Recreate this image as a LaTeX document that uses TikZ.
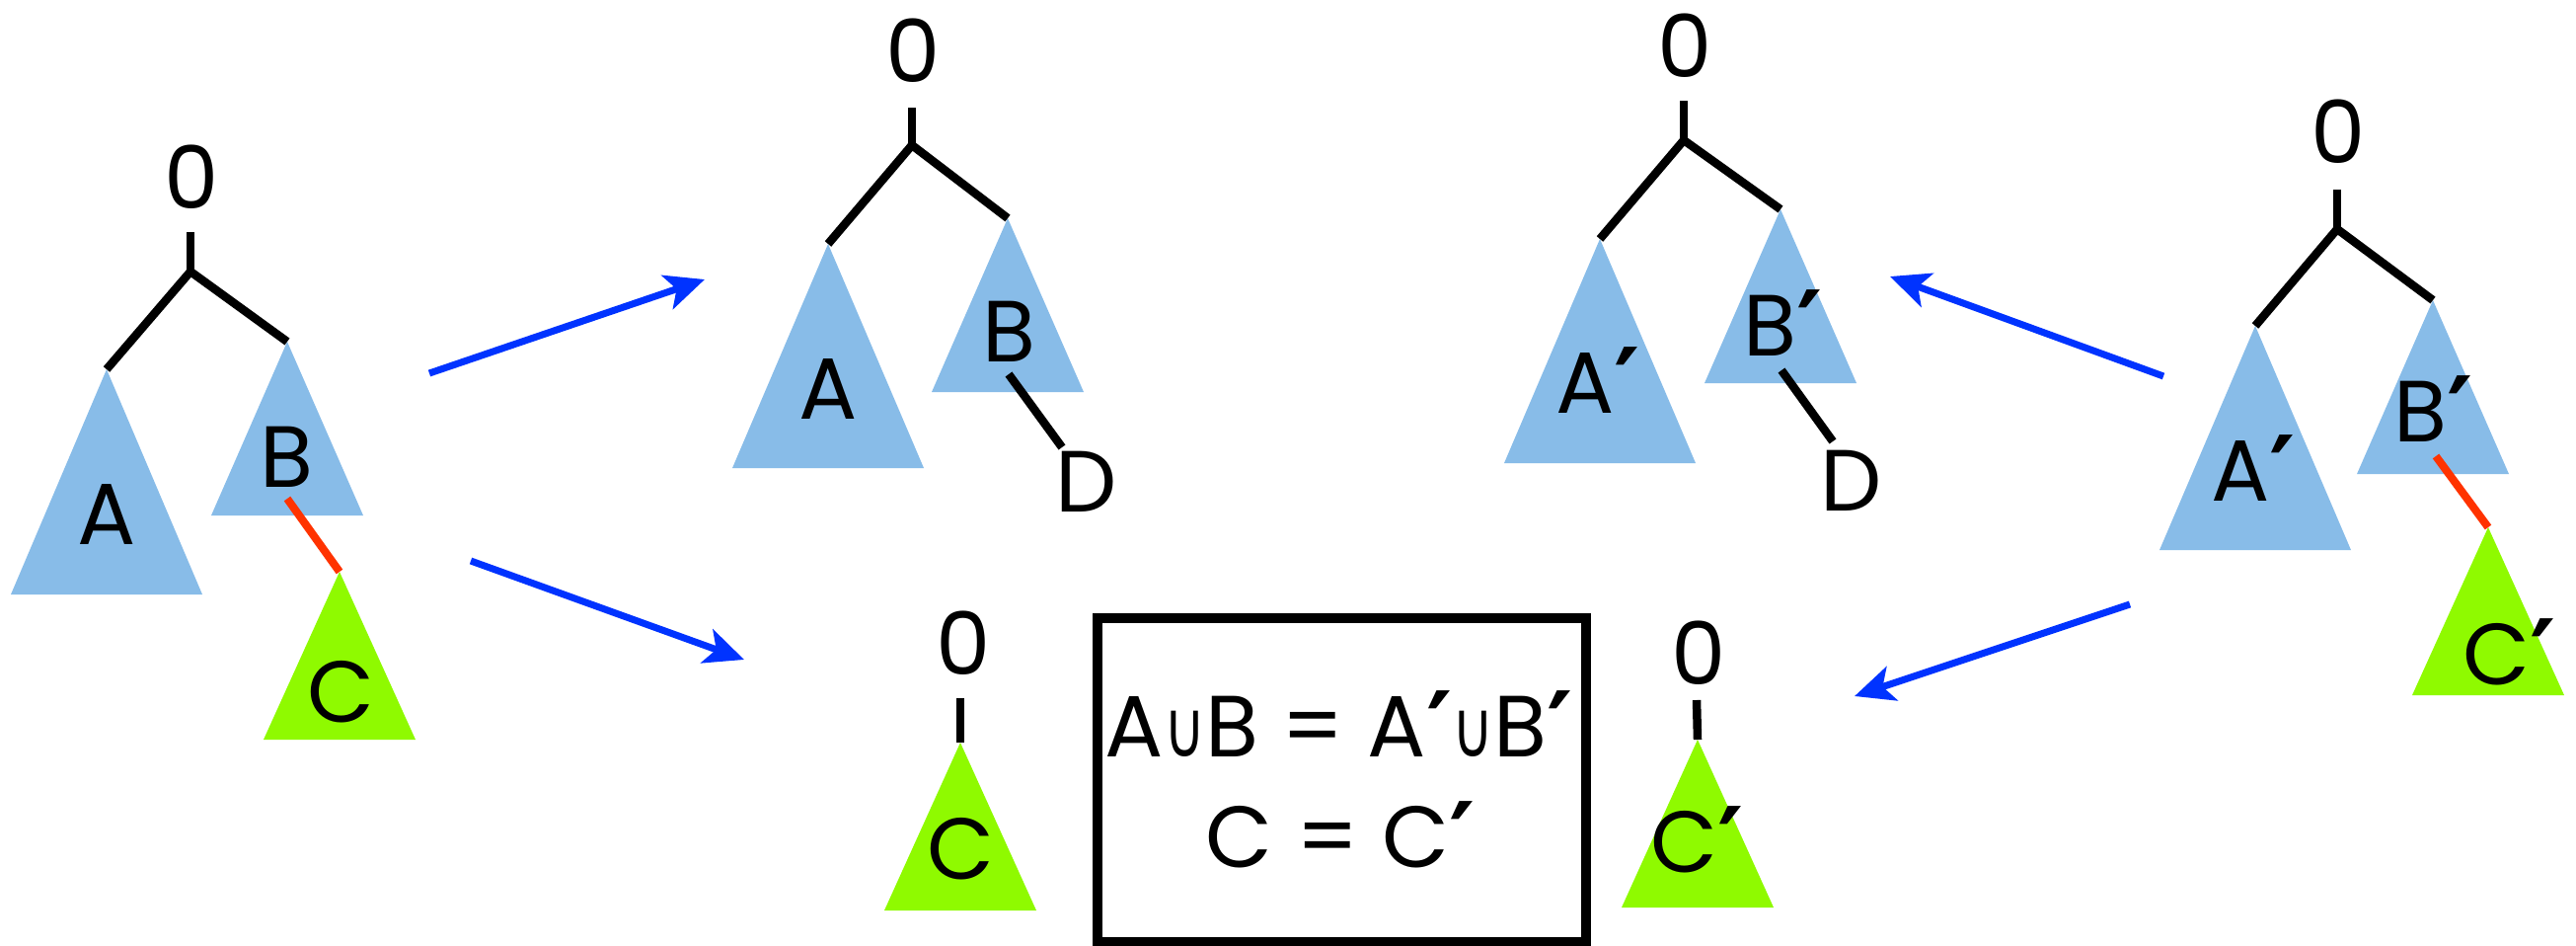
\documentclass[tikz,border=0pt]{standalone}
\usepackage{fontspec}
\usepackage{graphicx}
\setmainfont{Poppins}
\newfontfamily\symfont{DejaVu Sans}
\usetikzlibrary{arrows.meta}

\definecolor{treeblue}{RGB}{136,188,232}
\definecolor{treegreen}{RGB}{143,250,0}
\definecolor{edgered}{RGB}{255,51,0}
\definecolor{arrowblue}{RGB}{0,51,255}

% prime and union glyphs
\newcommand\pr{{\fontsize{100}{100}\selectfont\symfont\bfseries\raisebox{-6pt}{′}}}
\newcommand\un{{\fontsize{80}{80}\selectfont\symfont\scalebox{0.72}[1]{∪}}}

% subtree triangle: name, apex x, apex y, half width, height, colour
\newcommand\subtree[6]{%
  \coordinate (#1) at (#2,#3);
  \fill[#6] (#1) -- ++(#4,#5) -- ++(-2*#4,0) -- cycle;}

\tikzset{
  lbl/.style={font=\fontsize{88}{88}\selectfont, inner sep=0pt, anchor=base},
  treeline/.style={line width=8.5pt, black},
  redline/.style={line width=8pt, edgered},
  move/.style={line width=7pt, arrowblue, -{Stealth[length=40pt,width=36pt,inset=10pt]}},
  eqbox/.style={draw, line width=10pt, minimum width=495pt, minimum height=328pt, inner sep=0pt},
}

\begin{document}
\begin{tikzpicture}[x=1pt,y=-1pt]
\useasboundingbox (0,0) rectangle (2610,958);

% ---------- tree with A, B and C ----------
\subtree{A1}{108}{374}{97}{228}{treeblue}
\subtree{B1}{291}{346}{77}{176}{treeblue}
\subtree{C1}{344}{579}{77}{170}{treegreen}
\node[lbl] (z1) at (194,211) {0};
\coordinate (s1) at (193,235);
\coordinate (j1) at (193,275);
\draw[treeline] (s1) -- (j1);
\draw[treeline] (A1) -- (j1) -- (B1);
\coordinate (f1) at (291,505);
\draw[redline] (f1) -- (C1);
\node[lbl] (la1) at (108,551) {A};
\node[lbl] (lb1) at (290,493) {B};
\node[lbl] (lc1) at (345,731) {C};

% ---------- tree with A, B and D ----------
\subtree{A2}{839}{247}{97}{227}{treeblue}
\subtree{B2}{1021}{221}{77}{176}{treeblue}
\node[lbl] (z2) at (925,83) {0};
\coordinate (s2) at (924,109);
\coordinate (j2) at (924,147);
\draw[treeline] (s2) -- (j2);
\draw[treeline] (A2) -- (j2) -- (B2);
\node[lbl] (la2) at (839,424) {A};
\node[lbl] (lb2) at (1022,366) {B};
\node[lbl] (d2) at (1101,518) {D};
\coordinate (f2) at (1022,379);
\coordinate (g2) at (1076,453);
\draw[treeline] (f2) -- (g2);

% ---------- tree with A', B' and D ----------
\subtree{A3}{1621}{242}{97}{227}{treeblue}
\subtree{B3}{1804}{212}{77}{176}{treeblue}
\node[lbl] (z3) at (1707,78) {0};
\coordinate (s3) at (1706,102);
\coordinate (j3) at (1706,142);
\draw[treeline] (s3) -- (j3);
\draw[treeline] (A3) -- (j3) -- (B3);
\node[lbl] (la3) at (1619,418) {A\pr};
\node[lbl] (lb3) at (1807,360) {B\pr};
\node[lbl] (d3) at (1876,517) {D};
\coordinate (f3) at (1805,375);
\coordinate (g3) at (1857,447);
\draw[treeline] (f3) -- (g3);

% ---------- single subtree C ----------
\subtree{C4}{973}{752}{77}{170}{treegreen}
\node[lbl] (z4) at (976,683) {0};
\coordinate (s4) at (973,707);
\draw[treeline] (s4) -- (C4);
\node[lbl] (lc4) at (973,890) {C};

% ---------- single subtree C' ----------
\subtree{C5}{1720}{749}{77}{170}{treegreen}
\node[lbl] (z5) at (1721,693) {0};
\coordinate (s5) at (1719,709);
\draw[treeline] (s5) -- (C5);
\node[lbl] (lc5) at (1720,883) {C\pr};

% ---------- tree with A', B' and C' ----------
\subtree{A6}{2285}{330}{97}{227}{treeblue}
\subtree{B6}{2465}{304}{77}{176}{treeblue}
\subtree{C6}{2521}{534}{77}{170}{treegreen}
\node[lbl] (z6) at (2369,165) {0};
\coordinate (s6) at (2368,192);
\coordinate (j6) at (2368,232);
\draw[treeline] (s6) -- (j6);
\draw[treeline] (A6) -- (j6) -- (B6);
\coordinate (f6) at (2468,462);
\draw[redline] (f6) -- (C6);
\node[lbl] (la6) at (2283,507) {A\pr};
\node[lbl] (lb6) at (2466,447) {B\pr};
\node[lbl] (lc6) at (2543,693) {C\pr};

% ---------- equalities ----------
\node[eqbox] (box) at (1359.5,790) {};
\node[lbl] (eq1) at (1357,766) {A\un B = A\pr\un B\pr};
\node[lbl] (eq2) at (1358,878) {C = C\pr};

% ---------- moves between trees ----------
\coordinate (m1a) at (435,378);  \coordinate (m1b) at (714,283);
\coordinate (m2a) at (477,568);  \coordinate (m2b) at (754,668);
\coordinate (m3a) at (2192,381); \coordinate (m3b) at (1915,280);
\coordinate (m4a) at (2158,612); \coordinate (m4b) at (1879,705);
\draw[move] (m1a) -- (m1b);
\draw[move] (m2a) -- (m2b);
\draw[move] (m3a) -- (m3b);
\draw[move] (m4a) -- (m4b);
\end{tikzpicture}
\end{document}
